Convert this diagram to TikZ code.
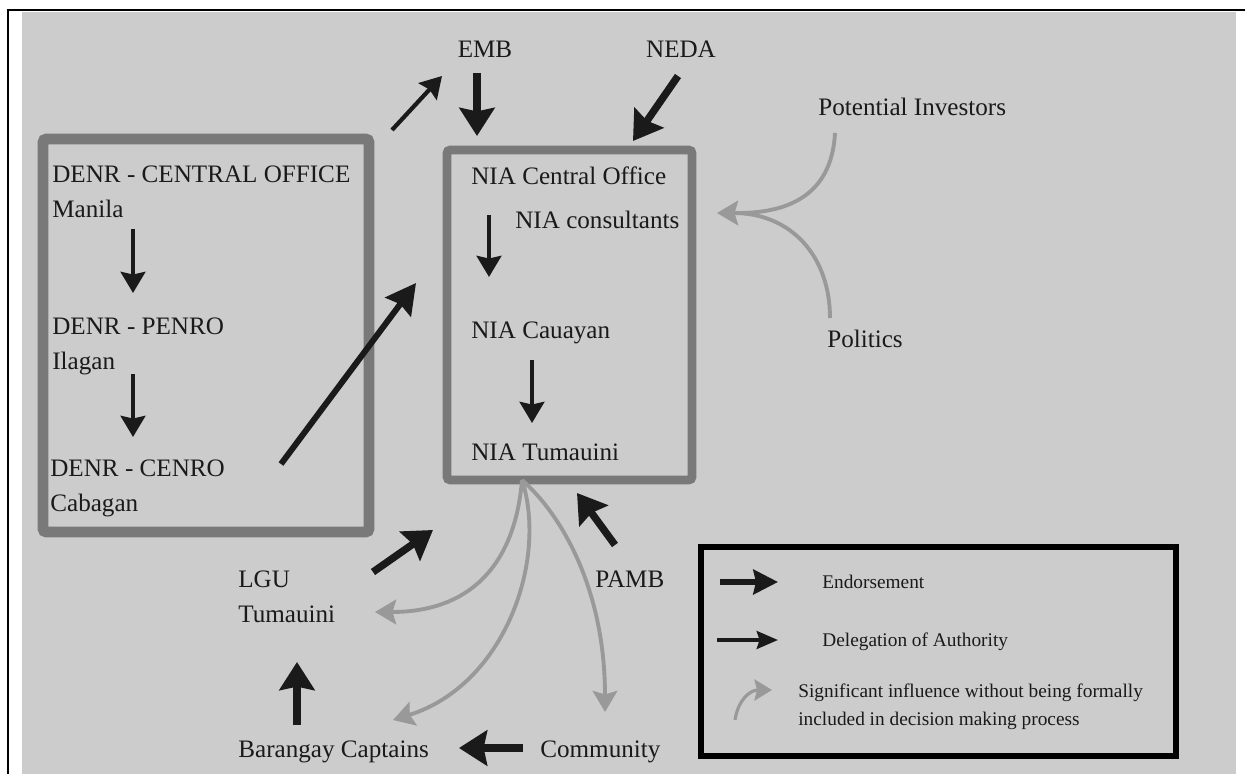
\documentclass[tikz,border=0pt]{standalone}
\usepackage{fontspec}
\setmainfont{Liberation Serif}
\usetikzlibrary{arrows.meta,positioning,fit}
\definecolor{OrgBg}{RGB}{204,204,204}
\definecolor{OrgFrame}{RGB}{121,121,121}
\definecolor{OrgInk}{RGB}{26,26,26}
\definecolor{OrgInfl}{RGB}{153,153,153}
\tikzset{
  org/label/.style={inner sep=0pt, align=left, text=OrgInk, font=\fontsize{14.3}{19.6}\selectfont},
  org/legend/.style={inner sep=0pt, align=left, text=OrgInk, font=\fontsize{11}{15.9}\selectfont},
  org/frame/.style={draw=OrgFrame, rounded corners=2pt, inner sep=0pt},
  org/endorse/.style={-{Stealth[length=16pt,width=20pt,inset=2pt]}, line width=4.2pt, draw=OrgInk},
  org/delegate/.style={-{Stealth[length=12pt,width=14pt,inset=1.5pt]}, line width=2.4pt, draw=OrgInk},
  org/influence/.style={-{Stealth[length=12pt,width=14pt,inset=2pt]}, line width=2.2pt, draw=OrgInfl}
}

\begin{document}
\begin{tikzpicture}[x=0.02cm,y=-0.02cm]
  \useasboundingbox (0,0) rectangle (1245,774);
  \fill[OrgBg] (22,12) rectangle (1236,774);
  \draw[line width=1.7pt] (8,774) -- (8,10) -- (1245,10);

  % frames
  \node[org/frame, line width=6.2pt, fit={(43,139)(369,532)}] (denrbox) {};
  \node[org/frame, line width=5.1pt, fit={(447,150)(692,480)}] (niabox) {};
  \node[draw=black, line width=2.9pt, inner sep=0pt, fit={(701,547)(1176,756)}] (legendbox) {};

  % DENR side
  \node[org/label, anchor=north west] (denrco) at (52,166) {DENR - CENTRAL OFFICE\\Manila};
  \node[org/label, anchor=north west] (denrpenro) at (52,318) {DENR - PENRO\\Ilagan};
  \node[org/label, anchor=north west] (denrcenro) at (50,460) {DENR - CENRO\\Cabagan};

  % NIA side
  \node[org/label, anchor=base west] (niaco) at (471,184) {NIA Central Office};
  \node[org/label, anchor=base west] (niacons) at (515,228) {NIA consultants};
  \node[org/label, anchor=base west] (niacau) at (471,338) {NIA Cauayan};
  \node[org/label, anchor=base west] (niatum) at (471,460) {NIA Tumauini};

  % outside actors
  \node[org/label, anchor=base] (emb) at (485,57) {EMB};
  \node[org/label, anchor=base] (neda) at (681,57) {NEDA};
  \node[org/label, anchor=base west] (investors) at (818,115) {Potential Investors};
  \node[org/label, anchor=base west] (politics) at (827,347) {Politics};
  \node[org/label, anchor=north west] (lgu) at (238,571) {LGU\\Tumauini};
  \node[org/label, anchor=base west] (pamb) at (595,587) {PAMB};
  \node[org/label, anchor=base west] (brgy) at (238,757) {Barangay Captains};
  \node[org/label, anchor=base west] (community) at (540,757) {Community};

  % legend
  \node[org/legend, anchor=base west] (legendorse) at (822,588) {Endorsement};
  \node[org/legend, anchor=base west] (legdelegate) at (822,646) {Delegation of Authority};
  \node[org/legend, anchor=north west] (leginfl) at (798,684) {Significant influence without being formally\\included in decision making process};

  % arrow ends
  \coordinate (dA) at (133,229); \coordinate (dB) at (133,293);
  \coordinate (dC) at (133,374); \coordinate (dD) at (133,437);
  \coordinate (cenroTail) at (281,464); \coordinate (cenroHead) at (416,283);
  \coordinate (toEmbTail) at (392,130); \coordinate (toEmbHead) at (442,76);
  \coordinate (embTail) at (477,73); \coordinate (embHead) at (477,136);
  \coordinate (nedaTail) at (678,76); \coordinate (nedaHead) at (633,141);
  \coordinate (nA) at (489,215); \coordinate (nB) at (489,277);
  \coordinate (nC) at (532,360); \coordinate (nD) at (532,423);
  \coordinate (lguTail) at (373,572); \coordinate (lguHead) at (433,530);
  \coordinate (brgyTail) at (297,725); \coordinate (brgyHead) at (297,662);
  \coordinate (commTail) at (523,748); \coordinate (commHead) at (459,748);
  \coordinate (pambTail) at (615,545); \coordinate (pambHead) at (577,493);
  \coordinate (niaFoot) at (522,480);
  \coordinate (inflHead) at (717,213);

  % delegation
  \draw[org/delegate] (dA) -- (dB);
  \draw[org/delegate] (dC) -- (dD);
  \draw[org/delegate] (nA) -- (nB);
  \draw[org/delegate] (nC) -- (nD);
  \draw[org/delegate] (toEmbTail) -- (toEmbHead);
  \draw[org/delegate, line width=3.4pt, -{Stealth[length=17pt,width=18pt,inset=2pt]}] (cenroTail) -- (cenroHead);

  % endorsement
  \draw[org/endorse] (embTail) -- (embHead);
  \draw[org/endorse] (nedaTail) -- (nedaHead);
  \draw[org/endorse] (lguTail) -- (lguHead);
  \draw[org/endorse] (brgyTail) -- (brgyHead);
  \draw[org/endorse] (commTail) -- (commHead);
  \draw[org/endorse] (pambTail) -- (pambHead);

  % influence
  \draw[org/influence, -] (835,133) .. controls (832,190) and (795,213) .. (738,213);
  \draw[org/influence] (830,318) .. controls (830,255) and (790,213) .. (inflHead);
  \draw[org/influence] (niaFoot) .. controls (515,565) and (470,612) .. (375,612);
  \draw[org/influence] (niaFoot) .. controls (548,560) and (505,685) .. (393,720);
  \draw[org/influence] (niaFoot) .. controls (562,515) and (605,590) .. (605,712);

  % legend arrows
  \coordinate (leA) at (720,582); \coordinate (leB) at (778,582);
  \coordinate (ldA) at (717,640); \coordinate (ldB) at (778,640);
  \coordinate (liA) at (735,720); \coordinate (liB) at (772,690);
  \draw[org/endorse, line width=3pt, -{Stealth[length=14pt,width=14pt,inset=1.5pt]}] (leA) -- (leB);
  \draw[org/delegate, -{Stealth[length=12pt,width=10pt,inset=1.5pt]}] (ldA) -- (ldB);
  \draw[org/influence, line width=1.8pt, -{Stealth[length=10pt,width=12pt,inset=1.5pt]}] (liA) .. controls (738,700) and (750,690) .. (liB);
\end{tikzpicture}
\end{document}
